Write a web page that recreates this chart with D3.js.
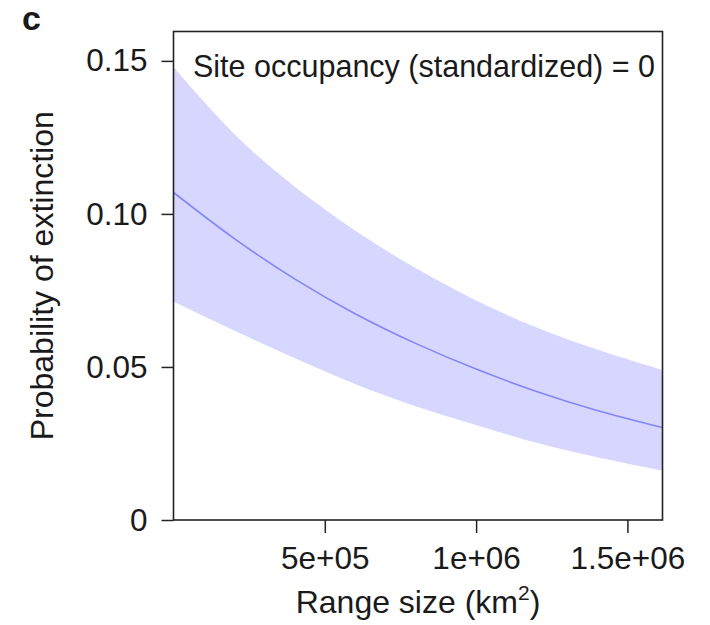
<!DOCTYPE html>
<html>
<head>
<meta charset="utf-8">
<script src="https://cdn.jsdelivr.net/npm/d3@7"></script>
<style>
  body { margin: 0; background: #fff; }
  svg text { font-family: "Liberation Sans", Arial, sans-serif; fill: #1a1a1a; }
</style>
</head>
<body>
<div id="chart"></div>
<script>
// range size (km2) sample points
const rangeSize = [0, 2e5, 4e5, 6e5, 8e5, 1e6, 1.2e6, 1.4e6, 1.616e6];
// fitted probability of extinction and its interval
const fitProb = [0.1070, 0.0920, 0.0788, 0.0674, 0.0577, 0.0493, 0.0420, 0.0358, 0.0302];
const upperProb = [0.1480, 0.1262, 0.1090, 0.0946, 0.0823, 0.0717, 0.0629, 0.0557, 0.0490];
const lowerProb = [0.0714, 0.0619, 0.0529, 0.0444, 0.0372, 0.0310, 0.0252, 0.0205, 0.0161];

const xTicks = [5e5, 1e6, 1.5e6];
const xTickLabels = ['5e+05', '1e+06', '1.5e+06'];
const yTicks = [0, 0.05, 0.10, 0.15];
const yTickLabels = ['0', '0.05', '0.10', '0.15'];

const width = 710, height = 625;
const margin = { top: 31.5, right: 47.5, bottom: 105, left: 173.5 };
const w = width - margin.left - margin.right;
const h = height - margin.top - margin.bottom;

const svg = d3.select('#chart').append('svg')
  .attr('width', width)
  .attr('height', height);

const g = svg.append('g')
  .attr('transform', `translate(${margin.left},${margin.top})`);

const x = d3.scaleLinear().domain([0, 1.616e6]).range([0, w]);
const y = d3.scaleLinear().domain([0, 0.1596]).range([h, 0]);

const data = rangeSize.map((r, i) => ({ r, fit: fitProb[i], lo: lowerProb[i], hi: upperProb[i] }));

// confidence band
const area = d3.area()
  .curve(d3.curveNatural)
  .x(d => x(d.r))
  .y0(d => y(d.lo))
  .y1(d => y(d.hi));

g.append('path')
  .datum(data)
  .attr('fill', 'rgb(214,214,255)')
  .attr('d', area);

// fitted line
const line = d3.line()
  .curve(d3.curveNatural)
  .x(d => x(d.r))
  .y(d => y(d.fit));

g.append('path')
  .datum(data)
  .attr('fill', 'none')
  .attr('stroke', '#8585f7')
  .attr('stroke-width', 1.6)
  .attr('d', line);

// axes
const xAxis = d3.axisBottom(x)
  .tickValues(xTicks)
  .tickSize(13)
  .tickPadding(14)
  .tickFormat((d, i) => xTickLabels[i]);

const xg = g.append('g')
  .attr('transform', `translate(0,${h})`)
  .call(xAxis);
xg.select('.domain').remove();

const yAxis = d3.axisLeft(y)
  .tickValues(yTicks)
  .tickSize(12)
  .tickPadding(14)
  .tickFormat((d, i) => yTickLabels[i]);

const yg = g.append('g').call(yAxis);
yg.select('.domain').remove();

svg.selectAll('.tick line').attr('stroke', '#222').attr('stroke-width', 1.5);
svg.selectAll('.tick text')
  .attr('font-size', 31.5)
  .attr('fill', '#1a1a1a')
  .attr('font-family', '"Liberation Sans", Arial, sans-serif');

// box
g.append('rect')
  .attr('x', 0).attr('y', 0)
  .attr('width', w).attr('height', h)
  .attr('fill', 'none')
  .attr('stroke', '#222')
  .attr('stroke-width', 1.6);

// in-plot label
g.append('text')
  .attr('x', 19.5)
  .attr('y', 45)
  .attr('font-size', 30.5)
  .text('Site occupancy (standardized) = 0');

// axis titles
const xt = svg.append('text')
  .attr('x', margin.left + w / 2)
  .attr('y', 613)
  .attr('text-anchor', 'middle')
  .attr('font-size', 32)
  .text('Range size (km');
xt.append('tspan').attr('dy', -13).attr('font-size', 21).text('2');
xt.append('tspan').attr('dy', 13).text(')');

svg.append('text')
  .attr('transform', `translate(53,${margin.top + h / 2}) rotate(-90)`)
  .attr('text-anchor', 'middle')
  .attr('font-size', 32)
  .text('Probability of extinction');

// panel letter
svg.append('text')
  .attr('x', 22)
  .attr('y', 30)
  .attr('font-size', 34)
  .attr('font-weight', 'bold')
  .attr('fill', '#000')
  .text('c');
</script>
</body>
</html>
